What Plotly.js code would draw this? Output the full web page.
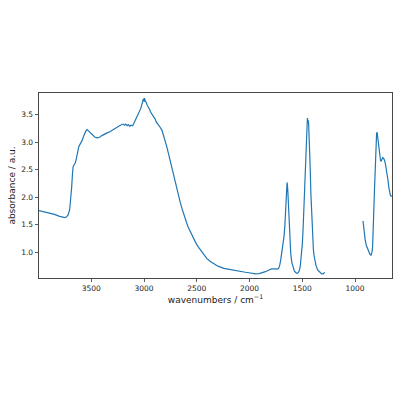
<!DOCTYPE html>
<html>
<head>
<meta charset="utf-8">
<script src="https://cdn.plot.ly/plotly-3.0.1.min.js"></script>
<style>html,body{margin:0;padding:0;background:#fff;}#chart{width:400px;height:400px;}</style>
</head>
<body>
<div id="chart"></div>
<script>
// Segment 1 (high wavenumber region)
var wn1 = [3996,3950,3900,3850,3800,3771,3750,3735,3720,3705,3695,3686,3678,3672,3660,3651,3640,3630,3619,3605,3590,3575,3565,3550,3540,3530,3517,3500,3486,3465,3445,3422,3400,3375,3350,3325,3300,3275,3250,3225,3200,3185,3175,3160,3150,3135,3125,3108,3090,3078,3070,3060,3050,3040,3032,3022,3015,3006,2999,2995,2988,2981,2972,2965,2957,2949,2938,2927,2918,2910,2895,2885,2875,2854,2831,2815,2800,2785,2768,2750,2727,2710,2695,2675,2659,2640,2628,2610,2595,2580,2564,2540,2517,2490,2469,2440,2406,2375,2343,2300,2244,2181,2130,2086,2040,2006,1970,1943,1910,1879,1850,1816,1790,1760,1737,1725,1715,1705,1695,1685,1673,1665,1657,1650,1645,1640,1635,1630,1625,1618,1610,1600,1590,1575,1560,1552,1540,1530,1520,1510,1500,1492,1484,1476,1470,1463,1457,1452,1448,1444,1440,1435,1431,1425,1419,1412,1403,1395,1388,1381,1370,1355,1340,1325,1315,1305,1295,1285];
var abs1 = [1.76,1.74,1.72,1.69,1.655,1.635,1.63,1.645,1.68,1.78,1.95,2.19,2.45,2.56,2.60,2.63,2.72,2.85,2.92,2.97,3.02,3.10,3.16,3.21,3.23,3.21,3.20,3.16,3.12,3.09,3.08,3.09,3.12,3.15,3.17,3.19,3.22,3.26,3.29,3.31,3.33,3.31,3.33,3.30,3.32,3.29,3.31,3.30,3.37,3.42,3.46,3.50,3.53,3.58,3.61,3.68,3.72,3.79,3.74,3.80,3.74,3.73,3.68,3.66,3.62,3.60,3.55,3.52,3.48,3.46,3.42,3.37,3.35,3.29,3.22,3.13,3.03,2.92,2.79,2.64,2.45,2.33,2.21,2.04,1.92,1.79,1.71,1.61,1.53,1.45,1.38,1.29,1.20,1.11,1.05,0.97,0.89,0.84,0.80,0.75,0.71,0.685,0.67,0.66,0.64,0.63,0.615,0.61,0.615,0.63,0.65,0.68,0.70,0.70,0.695,0.71,0.76,0.86,0.98,1.12,1.30,1.50,1.77,2.05,2.27,2.20,2.02,1.75,1.53,1.25,0.98,0.82,0.73,0.66,0.63,0.62,0.63,0.66,0.74,0.90,1.15,1.46,1.90,2.37,2.72,3.05,3.30,3.44,3.38,3.40,3.33,3.12,2.91,2.50,2.07,1.65,1.28,1.05,0.93,0.86,0.76,0.68,0.645,0.625,0.61,0.61,0.625,0.635];
// Segment 2 (low wavenumber region)
var wn2 = [925,918,913,905,894,882,872,860,849,840,834,829,825,820,815,810,806,800,796,791,787,783,778,773,768,764,758,752,745,738,730,720,712,704,696,688,680,672,665,656,650];
var abs2 = [1.57,1.44,1.34,1.24,1.13,1.06,1.01,0.97,0.95,1.00,1.10,1.30,1.59,1.90,2.19,2.50,2.79,3.05,3.16,3.18,3.12,3.03,2.93,2.85,2.74,2.68,2.66,2.66,2.69,2.72,2.71,2.67,2.60,2.52,2.42,2.31,2.18,2.06,2.03,2.02,2.02];
var xTicks = [3500,3000,2500,2000,1500,1000];
var yTicks = [1.0,1.5,2.0,2.5,3.0,3.5];

var lineStyle = {color:'#1f77b4', width:1.2};
var traces = [
  {x:wn1, y:abs1, type:'scatter', mode:'lines', line:lineStyle, hoverinfo:'skip'},
  {x:wn2, y:abs2, type:'scatter', mode:'lines', line:lineStyle, hoverinfo:'skip'}
];
var axisCommon = {
  showline:true, mirror:true, linecolor:'#333', linewidth:0.9,
  ticks:'outside', ticklen:3.5, tickwidth:0.8, tickcolor:'#333',
  showgrid:false, zeroline:false,
  tickfont:{family:'DejaVu Sans', size:7.5, color:'#222'}
};
var layout = {
  width:400, height:400, showlegend:false,
  paper_bgcolor:'#fff', plot_bgcolor:'#fff',
  margin:{l:39, r:8.3, t:93.3, b:121.7, pad:0},
  xaxis: Object.assign({}, axisCommon, {
    range:[3996,650], tickvals:xTicks, ticktext:xTicks.map(String),
    title:{text:'wavenumbers / cm<sup>\u22121</sup>', font:{family:'DejaVu Sans', size:9, color:'#222'}, standoff:4}
  }),
  yaxis: Object.assign({}, axisCommon, {
    range:[0.535,3.894], tickvals:yTicks, ticktext:yTicks.map(function(v){return v.toFixed(1);}),
    title:{text:'absorbance / a.u.', font:{family:'DejaVu Sans', size:9, color:'#222'}, standoff:3}
  })
};
Plotly.newPlot('chart', traces, layout, {staticPlot:true, displayModeBar:false});
</script>
</body>
</html>
